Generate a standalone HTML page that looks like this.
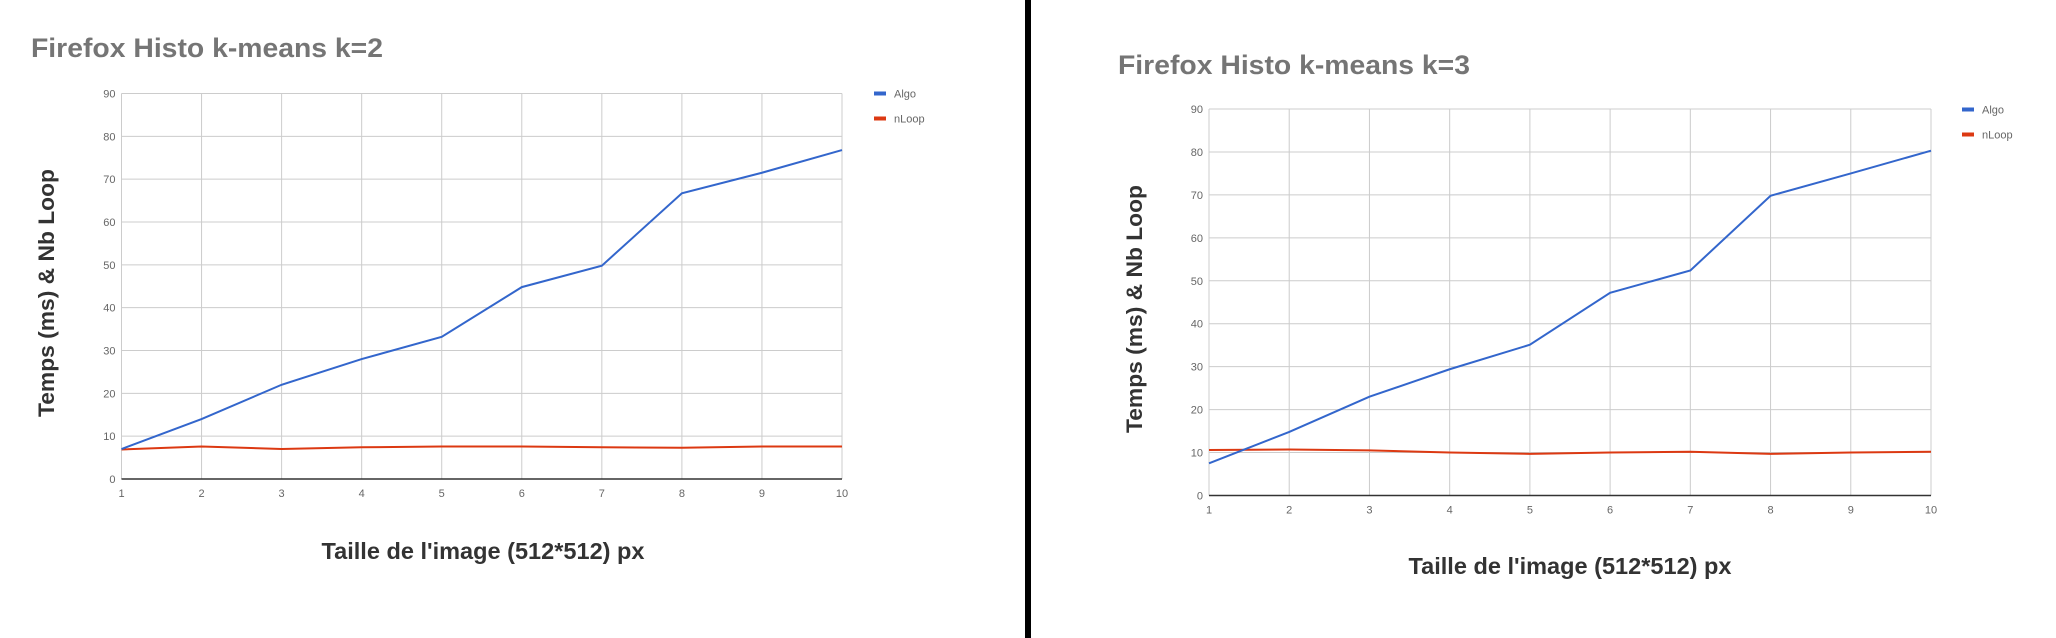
<!DOCTYPE html>
<html><head><meta charset="utf-8"><style>
html,body{margin:0;padding:0;background:#fff;width:2056px;height:638px;overflow:hidden}
svg{display:block;font-family:"Liberation Sans",sans-serif}
</style></head><body>
<svg id="root" width="2056" height="638" viewBox="0 0 2056 638">
<rect x="1025" y="0" width="6" height="638" fill="#000"/>
</svg>
<script>
const categories = [1,2,3,4,5,6,7,8,9,10];
const yTicks = [0,10,20,30,40,50,60,70,80,90];
const algoK2 = [7, 14, 22, 28, 33.2, 44.8, 49.8, 66.7, 71.5, 76.8];
const nloopK2 = [6.9, 7.6, 7.0, 7.4, 7.6, 7.6, 7.4, 7.3, 7.6, 7.6];
const algoK3 = [7.5, 14.8, 23, 29.4, 35.1, 47.2, 52.4, 69.8, 75, 80.3];
const nloopK3 = [10.6, 10.7, 10.5, 10.0, 9.7, 10.0, 10.2, 9.7, 10.0, 10.2];
const titles = ["Firefox Histo k-means k=2", "Firefox Histo k-means k=3"];

const NS = "http://www.w3.org/2000/svg";
const root = document.getElementById('root');
function mk(tag, attrs, parent){
  const e = document.createElementNS(NS, tag);
  for (const k in attrs) e.setAttribute(k, attrs[k]);
  (parent||root).appendChild(e);
  return e;
}
function drawChart(cfg, title, algo, nloop, idx){
  const g = mk('g', {});
  
  
  const xs = v => cfg.L + (v - categories[0]) / (categories[categories.length-1] - categories[0]) * (cfg.R - cfg.L);
  const ys = v => cfg.B - v / 90 * (cfg.B - cfg.T);
  const t = mk('text', {x: cfg.tx, y: cfg.ty, 'font-size': 27, 'font-weight': 'bold', fill: '#757575', textLength: 352, lengthAdjust: 'spacingAndGlyphs'}, g);
  t.textContent = title;
  
  
  yTicks.forEach(v => {
    if (v > 0) {
      const l = mk('line', {x1: cfg.L, x2: cfg.R, y1: ys(v), y2: ys(v), stroke: '#cccccc', 'stroke-width': 1}, g);
      
      
    }
    const tl = mk('text', {x: cfg.L - 6, y: ys(v) + 4, 'font-size': 11, fill: '#666', 'text-anchor': 'end'}, g);
    tl.textContent = v;
    
    
  });
  categories.forEach(c => {
    const l = mk('line', {x1: xs(c), x2: xs(c), y1: cfg.T, y2: cfg.B, stroke: '#cccccc', 'stroke-width': 1}, g);
    
    
    const tl = mk('text', {x: xs(c), y: cfg.B + 18, 'font-size': 11, fill: '#666', 'text-anchor': 'middle'}, g);
    tl.textContent = c;
    
    
  });
  const ax = mk('line', {x1: cfg.L, x2: cfg.R, y1: cfg.B, y2: cfg.B, stroke: '#333', 'stroke-width': 1.5}, g);
  
  
  const pn = mk('polyline', {points: categories.map((c,i) => xs(c)+','+ys(nloop[i])).join(' '), fill: 'none', stroke: '#dc3912', 'stroke-width': 2}, g);
  
  
  const pa = mk('polyline', {points: categories.map((c,i) => xs(c)+','+ys(algo[i])).join(' '), fill: 'none', stroke: '#3366cc', 'stroke-width': 2}, g);
  
  
  [['Algo', '#3366cc', 0], ['nLoop', '#dc3912', 25]].forEach(([name, col, dy]) => {
    const s = mk('rect', {x: cfg.lx, y: cfg.ly + dy - 2, width: 12, height: 4, fill: col}, g);
    
    
    const lt = mk('text', {x: cfg.lx + 20, y: cfg.ly + dy + 4, 'font-size': 11, fill: '#666'}, g);
    lt.textContent = name;
    
    
  });
  const yl = mk('text', {x: 0, y: 0, 'font-size': 22, 'font-weight': 'bold', fill: '#333', 'text-anchor': 'middle', textLength: 248, lengthAdjust: 'spacingAndGlyphs', transform: 'translate(' + (cfg.yx) + ',' + cfg.yy + ') rotate(-90)'}, g);
  yl.textContent = 'Temps (ms) & Nb Loop';
  
  
  const xl = mk('text', {x: cfg.xx, y: cfg.xy, 'font-size': 23, 'font-weight': 'bold', fill: '#333', 'text-anchor': 'middle', textLength: 323, lengthAdjust: 'spacingAndGlyphs'}, g);
  xl.textContent = "Taille de l'image (512*512) px";
  
  
}
drawChart({L:121.5, R:842, T:93.5, B:479, tx:31, ty:57, lx:874, ly:93.5, yx:54, yy:293, xx:483, xy:559}, titles[0], algoK2, nloopK2, 0);
drawChart({L:1209, R:1931, T:109, B:495.5, tx:1118, ty:74, lx:1962, ly:109.5, yx:1142, yy:309, xx:1570, xy:574}, titles[1], algoK3, nloopK3, 1);
</script>
</body></html>
